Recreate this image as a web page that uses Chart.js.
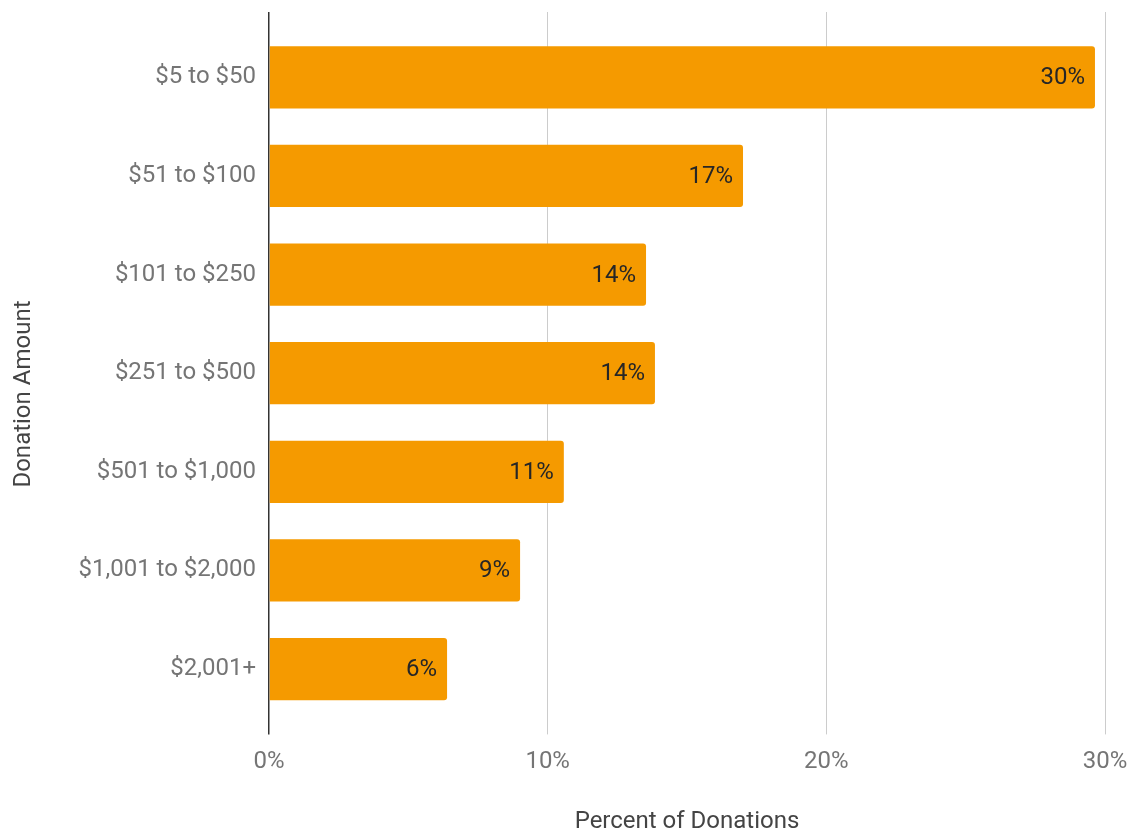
<!DOCTYPE html>
<html>
<head>
<meta charset="utf-8">
<script src="https://cdn.jsdelivr.net/npm/chart.js@4"></script>
<style>
  html, body { margin: 0; padding: 0; background: #fff; }
  #c { display: block; }
</style>
</head>
<body>
<canvas id="c" width="1136" height="838"></canvas>
<script>
const categories = ["$5 to $50", "$51 to $100", "$101 to $250", "$251 to $500", "$501 to $1,000", "$1,001 to $2,000", "$2,001+"];
const percentValues = [29.64, 17.01, 13.53, 13.85, 10.58, 9.01, 6.39];
const valueLabels = ["30%", "17%", "14%", "14%", "11%", "9%", "6%"];
const xTickValues = [0, 10, 20, 30];
const xTitle = "Percent of Donations";
const yTitle = "Donation Amount       ";

const FONT = "Roboto, 'Noto Sans', sans-serif";

const barLabelPlugin = {
  id: 'barLabels',
  afterDatasetsDraw(chart) {
    const ctx = chart.ctx;
    const meta = chart.getDatasetMeta(0);
    ctx.save();
    ctx.font = "24px " + FONT;
    ctx.fillStyle = "#262626";
    ctx.textAlign = "right";
    ctx.textBaseline = "middle";
    meta.data.forEach((bar, i) => {
      ctx.fillText(valueLabels[i], bar.x - 10, bar.y + 1);
    });
    ctx.restore();
  }
};

const gridColor = (ctx) => (ctx.tick && ctx.tick.value === 0) ? "#333333" : "#cccccc";
const gridWidth = (ctx) => (ctx.tick && ctx.tick.value === 0) ? 1.5 : 1;

new Chart(document.getElementById('c'), {
  type: 'bar',
  data: {
    labels: categories,
    datasets: [{
      data: percentValues,
      backgroundColor: "#f59a00",
      borderRadius: 3,
      borderSkipped: 'start',
      categoryPercentage: 1.0,
      barPercentage: 0.632
    }]
  },
  options: {
    indexAxis: 'y',
    responsive: false,
    animation: false,
    events: [],
    layout: { padding: { top: 12, right: 31, bottom: 0, left: 0 } },
    plugins: { legend: { display: false }, tooltip: { enabled: false } },
    scales: {
      x: {
        type: 'linear',
        position: 'bottom',
        min: 0,
        max: 30,
        afterBuildTicks: (s) => { s.ticks = xTickValues.map(v => ({ value: v })); },
        afterFit: (s) => { s.paddingLeft = 0; s.paddingRight = 0; },
        grid: { color: gridColor, lineWidth: gridWidth, tickLength: 16, drawTicks: true },
        border: { display: false },
        ticks: {
          padding: 13,
          color: "#757575",
          font: { family: FONT, size: 24 },
          callback: (v) => v + "%"
        },
        title: {
          display: true,
          text: xTitle,
          color: "#444444",
          font: { family: FONT, size: 24 },
          padding: { top: 18, bottom: 2 }
        }
      },
      x2: {
        type: 'linear',
        position: 'top',
        min: 0,
        max: 30,
        afterBuildTicks: (s) => { s.ticks = xTickValues.map(v => ({ value: v })); },
        afterFit: (s) => { s.paddingLeft = 0; s.paddingRight = 0; },
        grid: { color: gridColor, lineWidth: gridWidth, tickLength: 16, drawTicks: true, drawOnChartArea: false },
        border: { display: false },
        ticks: { display: false }
      },
      y: {
        type: 'category',
        offset: true,
        afterFit: (s) => { s.width = 269; },
        grid: { display: false, drawTicks: false },
        border: { display: false },
        ticks: {
          padding: 13,
          color: "#757575",
          font: { family: FONT, size: 24 }
        },
        title: {
          display: true,
          text: yTitle,
          color: "#444444",
          font: { family: FONT, size: 24 },
          padding: { top: 10, bottom: 0 }
        }
      }
    }
  },
  plugins: [barLabelPlugin]
});
</script>
</body>
</html>
